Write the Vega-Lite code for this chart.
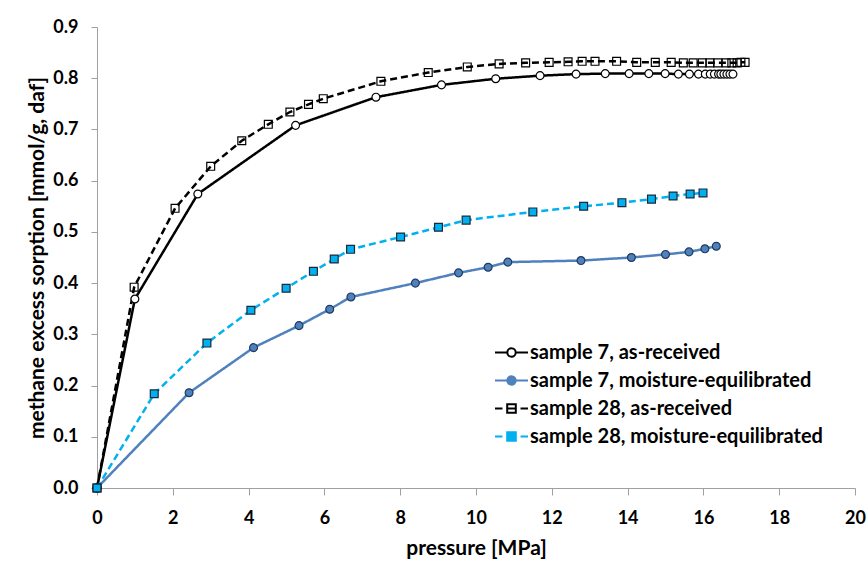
{
  "$schema": "https://vega.github.io/schema/vega-lite/v6.json",
  "width": 758,
  "height": 461,
  "autosize": "none",
  "padding": {"left": 97, "top": 27, "right": 11, "bottom": 79},
  "background": "white",
  "config": {
    "font": "Lato",
    "view": {"stroke": null},
    "axis": {
      "grid": false,
      "domainColor": "#A0A0A0",
      "tickColor": "#A0A0A0",
      "labelColor": "black",
      "titleColor": "black",
      "labelFont": "Lato",
      "titleFont": "Lato",
      "labelFontSize": 18,
      "titleFontSize": 21,
      "labelFontWeight": "bold",
      "titleFontWeight": "bold"
    }
  },
  "data": {
    "values": [
      {"series": "sample 7, as-received", "p": 0, "q": 0},
      {"series": "sample 7, as-received", "p": 1.00, "q": 0.369},
      {"series": "sample 7, as-received", "p": 2.66, "q": 0.574},
      {"series": "sample 7, as-received", "p": 5.24, "q": 0.708},
      {"series": "sample 7, as-received", "p": 7.36, "q": 0.763},
      {"series": "sample 7, as-received", "p": 9.09, "q": 0.787},
      {"series": "sample 7, as-received", "p": 10.52, "q": 0.799},
      {"series": "sample 7, as-received", "p": 11.69, "q": 0.805},
      {"series": "sample 7, as-received", "p": 12.64, "q": 0.808},
      {"series": "sample 7, as-received", "p": 13.41, "q": 0.809},
      {"series": "sample 7, as-received", "p": 14.04, "q": 0.809},
      {"series": "sample 7, as-received", "p": 14.56, "q": 0.809},
      {"series": "sample 7, as-received", "p": 14.99, "q": 0.809},
      {"series": "sample 7, as-received", "p": 15.34, "q": 0.808},
      {"series": "sample 7, as-received", "p": 15.63, "q": 0.808},
      {"series": "sample 7, as-received", "p": 15.87, "q": 0.808},
      {"series": "sample 7, as-received", "p": 16.05, "q": 0.808},
      {"series": "sample 7, as-received", "p": 16.18, "q": 0.808},
      {"series": "sample 7, as-received", "p": 16.29, "q": 0.808},
      {"series": "sample 7, as-received", "p": 16.40, "q": 0.808},
      {"series": "sample 7, as-received", "p": 16.46, "q": 0.808},
      {"series": "sample 7, as-received", "p": 16.54, "q": 0.808},
      {"series": "sample 7, as-received", "p": 16.62, "q": 0.808},
      {"series": "sample 7, as-received", "p": 16.70, "q": 0.808},
      {"series": "sample 7, as-received", "p": 16.78, "q": 0.808},
      {"series": "sample 7, moisture-equilibrated", "p": 0, "q": 0},
      {"series": "sample 7, moisture-equilibrated", "p": 2.43, "q": 0.186},
      {"series": "sample 7, moisture-equilibrated", "p": 4.13, "q": 0.274},
      {"series": "sample 7, moisture-equilibrated", "p": 5.33, "q": 0.317},
      {"series": "sample 7, moisture-equilibrated", "p": 6.14, "q": 0.349},
      {"series": "sample 7, moisture-equilibrated", "p": 6.70, "q": 0.373},
      {"series": "sample 7, moisture-equilibrated", "p": 8.40, "q": 0.400},
      {"series": "sample 7, moisture-equilibrated", "p": 9.54, "q": 0.420},
      {"series": "sample 7, moisture-equilibrated", "p": 10.32, "q": 0.431},
      {"series": "sample 7, moisture-equilibrated", "p": 10.84, "q": 0.441},
      {"series": "sample 7, moisture-equilibrated", "p": 12.77, "q": 0.444},
      {"series": "sample 7, moisture-equilibrated", "p": 14.10, "q": 0.450},
      {"series": "sample 7, moisture-equilibrated", "p": 15.00, "q": 0.456},
      {"series": "sample 7, moisture-equilibrated", "p": 15.62, "q": 0.461},
      {"series": "sample 7, moisture-equilibrated", "p": 16.04, "q": 0.467},
      {"series": "sample 7, moisture-equilibrated", "p": 16.34, "q": 0.472},
      {"series": "sample 28, as-received", "p": 0, "q": 0},
      {"series": "sample 28, as-received", "p": 0.98, "q": 0.392},
      {"series": "sample 28, as-received", "p": 2.06, "q": 0.546},
      {"series": "sample 28, as-received", "p": 3.00, "q": 0.628},
      {"series": "sample 28, as-received", "p": 3.82, "q": 0.678},
      {"series": "sample 28, as-received", "p": 4.52, "q": 0.710},
      {"series": "sample 28, as-received", "p": 5.09, "q": 0.734},
      {"series": "sample 28, as-received", "p": 5.58, "q": 0.749},
      {"series": "sample 28, as-received", "p": 5.97, "q": 0.760},
      {"series": "sample 28, as-received", "p": 7.49, "q": 0.794},
      {"series": "sample 28, as-received", "p": 8.74, "q": 0.811},
      {"series": "sample 28, as-received", "p": 9.77, "q": 0.822},
      {"series": "sample 28, as-received", "p": 10.61, "q": 0.828},
      {"series": "sample 28, as-received", "p": 11.31, "q": 0.830},
      {"series": "sample 28, as-received", "p": 11.93, "q": 0.831},
      {"series": "sample 28, as-received", "p": 12.43, "q": 0.832},
      {"series": "sample 28, as-received", "p": 12.80, "q": 0.833},
      {"series": "sample 28, as-received", "p": 13.14, "q": 0.833},
      {"series": "sample 28, as-received", "p": 13.71, "q": 0.833},
      {"series": "sample 28, as-received", "p": 14.24, "q": 0.831},
      {"series": "sample 28, as-received", "p": 14.73, "q": 0.831},
      {"series": "sample 28, as-received", "p": 15.15, "q": 0.831},
      {"series": "sample 28, as-received", "p": 15.47, "q": 0.830},
      {"series": "sample 28, as-received", "p": 15.73, "q": 0.830},
      {"series": "sample 28, as-received", "p": 15.97, "q": 0.830},
      {"series": "sample 28, as-received", "p": 16.17, "q": 0.830},
      {"series": "sample 28, as-received", "p": 16.38, "q": 0.830},
      {"series": "sample 28, as-received", "p": 16.60, "q": 0.830},
      {"series": "sample 28, as-received", "p": 16.75, "q": 0.830},
      {"series": "sample 28, as-received", "p": 16.89, "q": 0.830},
      {"series": "sample 28, as-received", "p": 16.99, "q": 0.831},
      {"series": "sample 28, as-received", "p": 17.10, "q": 0.831},
      {"series": "sample 28, moisture-equilibrated", "p": 0, "q": 0},
      {"series": "sample 28, moisture-equilibrated", "p": 1.51, "q": 0.184},
      {"series": "sample 28, moisture-equilibrated", "p": 2.90, "q": 0.283},
      {"series": "sample 28, moisture-equilibrated", "p": 4.06, "q": 0.347},
      {"series": "sample 28, moisture-equilibrated", "p": 4.99, "q": 0.390},
      {"series": "sample 28, moisture-equilibrated", "p": 5.71, "q": 0.423},
      {"series": "sample 28, moisture-equilibrated", "p": 6.26, "q": 0.447},
      {"series": "sample 28, moisture-equilibrated", "p": 6.69, "q": 0.466},
      {"series": "sample 28, moisture-equilibrated", "p": 8.01, "q": 0.490},
      {"series": "sample 28, moisture-equilibrated", "p": 9.01, "q": 0.509},
      {"series": "sample 28, moisture-equilibrated", "p": 9.74, "q": 0.523},
      {"series": "sample 28, moisture-equilibrated", "p": 11.50, "q": 0.539},
      {"series": "sample 28, moisture-equilibrated", "p": 12.84, "q": 0.550},
      {"series": "sample 28, moisture-equilibrated", "p": 13.85, "q": 0.557},
      {"series": "sample 28, moisture-equilibrated", "p": 14.63, "q": 0.564},
      {"series": "sample 28, moisture-equilibrated", "p": 15.20, "q": 0.570},
      {"series": "sample 28, moisture-equilibrated", "p": 15.65, "q": 0.574},
      {"series": "sample 28, moisture-equilibrated", "p": 15.99, "q": 0.576}
    ]
  },
  "encoding": {
    "x": {
      "field": "p",
      "type": "quantitative",
      "scale": {"domain": [0, 20], "nice": false},
      "axis": {
        "title": "pressure [MPa]",
        "values": [0, 2, 4, 6, 8, 10, 12, 14, 16, 18, 20],
        "format": "d",
        "tickSize": 7,
        "labelPadding": 14,
        "titlePadding": 10,
        "labelFlush": false,
        "labelOverlap": false
      }
    },
    "y": {
      "field": "q",
      "type": "quantitative",
      "scale": {"domain": [0, 0.9], "nice": false},
      "axis": {
        "title": "methane excess sorption [mmol/g, daf]",
        "values": [0, 0.1, 0.2, 0.3, 0.4, 0.5, 0.6, 0.7, 0.8, 0.9],
        "format": ".1f",
        "tickSize": 6,
        "labelPadding": 13,
        "titlePadding": 5,
        "labelFlush": false,
        "labelOverlap": false
      }
    }
  },
  "resolve": {"scale": {"shape": "independent", "fill": "independent", "stroke": "independent"}},
  "layer": [
    {
      "mark": {"type": "line", "strokeWidth": 2.5},
      "encoding": {
        "color": {
          "field": "series",
          "type": "nominal",
          "scale": {
            "domain": ["sample 7, as-received", "sample 7, moisture-equilibrated", "sample 28, as-received", "sample 28, moisture-equilibrated"],
            "range": ["#000000", "#4F81BD", "#000000", "#00B0F0"]
          },
          "legend": null
        },
        "strokeDash": {
          "field": "series",
          "type": "nominal",
          "scale": {
            "domain": ["sample 7, as-received", "sample 7, moisture-equilibrated", "sample 28, as-received", "sample 28, moisture-equilibrated"],
            "range": [[1, 0], [1, 0], [7, 4], [7, 4]]
          },
          "legend": null
        }
      }
    },
    {
      "mark": {"type": "point", "filled": true, "size": 62, "strokeWidth": 1.2, "opacity": 1},
      "encoding": {
        "shape": {
          "field": "series",
          "type": "nominal",
          "scale": {
            "domain": ["sample 7, as-received", "sample 7, moisture-equilibrated", "sample 28, as-received", "sample 28, moisture-equilibrated"],
            "range": ["circle", "circle", "square", "square"]
          },
          "legend": null
        },
        "fill": {
          "field": "series",
          "type": "nominal",
          "scale": {
            "domain": ["sample 7, as-received", "sample 7, moisture-equilibrated", "sample 28, as-received", "sample 28, moisture-equilibrated"],
            "range": ["white", "#4F81BD", "transparent", "#00B0F0"]
          },
          "legend": null
        },
        "stroke": {
          "field": "series",
          "type": "nominal",
          "scale": {
            "domain": ["sample 7, as-received", "sample 7, moisture-equilibrated", "sample 28, as-received", "sample 28, moisture-equilibrated"],
            "range": ["#000000", "#1F3A5F", "#000000", "#1A2A3A"]
          },
          "legend": null
        }
      }
    },
    {
      "transform": [{"filter": "false"}],
      "mark": {"type": "point", "filled": true, "size": 441, "strokeWidth": 2, "opacity": 1},
      "encoding": {
        "shape": {
          "field": "series",
          "type": "nominal",
          "scale": {
            "domain": ["sample 7, as-received", "sample 7, moisture-equilibrated", "sample 28, as-received", "sample 28, moisture-equilibrated"],
            "range": [
              "M-1.571,0H-0.4M0.4,0H1.571M0.4,0A0.4,0.4,0,1,1,-0.4,0A0.4,0.4,0,1,1,0.4,0Z",
              "M-1.571,0H-0.4M0.4,0H1.571M0.4,0A0.4,0.4,0,1,1,-0.4,0A0.4,0.4,0,1,1,0.4,0Z",
              "M-1.571,0H-0.86M0.86,0H1.571M-0.41,-0.41H0.41V0.41H-0.41ZM-0.41,0H0.41",
              "M-1.571,0H-0.86M0.86,0H1.571M-0.41,-0.41H0.41V0.41H-0.41Z"
            ]
          },
          "legend": {
            "title": null,
            "orient": "none",
            "legendX": 403,
            "legendY": 314,
            "padding": 0,
            "symbolSize": 441,
            "symbolStrokeWidth": 2,
            "labelFont": "Lato",
            "labelFontSize": 20,
            "labelFontWeight": "bold",
            "labelColor": "black",
            "labelOffset": 7,
            "labelLimit": 0,
            "rowPadding": 6
          }
        },
        "fill": {
          "field": "series",
          "type": "nominal",
          "scale": {
            "domain": ["sample 7, as-received", "sample 7, moisture-equilibrated", "sample 28, as-received", "sample 28, moisture-equilibrated"],
            "range": ["white", "#4F81BD", "white", "#00B0F0"]
          },
          "legend": {
            "title": null,
            "orient": "none",
            "legendX": 403,
            "legendY": 314,
            "padding": 0,
            "symbolSize": 441,
            "symbolStrokeWidth": 2,
            "labelFont": "Lato",
            "labelFontSize": 20,
            "labelFontWeight": "bold",
            "labelColor": "black",
            "labelOffset": 7,
            "labelLimit": 0,
            "rowPadding": 6
          }
        },
        "stroke": {
          "field": "series",
          "type": "nominal",
          "scale": {
            "domain": ["sample 7, as-received", "sample 7, moisture-equilibrated", "sample 28, as-received", "sample 28, moisture-equilibrated"],
            "range": ["#000000", "#4F81BD", "#000000", "#00B0F0"]
          },
          "legend": {
            "title": null,
            "orient": "none",
            "legendX": 403,
            "legendY": 314,
            "padding": 0,
            "symbolSize": 441,
            "symbolStrokeWidth": 2,
            "labelFont": "Lato",
            "labelFontSize": 20,
            "labelFontWeight": "bold",
            "labelColor": "black",
            "labelOffset": 7,
            "labelLimit": 0,
            "rowPadding": 6
          }
        }
      }
    }
  ]
}
